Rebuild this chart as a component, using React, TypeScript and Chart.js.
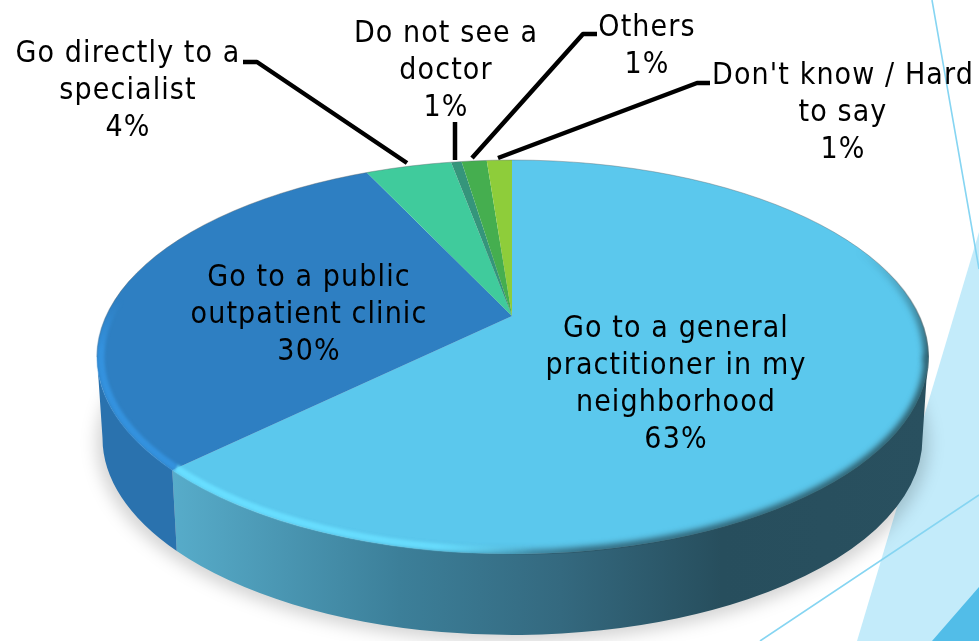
import React, { useEffect, useRef } from "react";
import { Chart, registerables } from "chart.js";

Chart.register(...registerables);

const categories = [
  "Go to a general practitioner in my neighborhood",
  "Go to a public outpatient clinic",
  "Go directly to a specialist",
  "Do not see a doctor",
  "Others",
  "Don't know / Hard to say",
];
const shares = [62.7, 30.3, 4.1, 0.5, 1.2, 1.2];
const sliceColors = ["#5bc8ed", "#2e7fc2", "#40cb9c", "#35957b", "#45ae4f", "#8ecd3a"];

const labelLines = [
  ["Go to a general", "practitioner in my", "neighborhood", "63%"],
  ["Go to a public", "outpatient clinic", "30%"],
  ["Go directly to a", "specialist", "4%"],
  ["Do not see a", "doctor", "1%"],
  ["Others", "1%"],
  ["Don't know / Hard", "to say", "1%"],
];
const labelAnchors = [
  [676, 329],
  [309, 278],
  [128, 54],
  [446, 34],
  [647, 28],
  [843, 76],
];
const leaders = [
  null,
  null,
  [[243, 62], [257, 62], [407, 163]],
  [[455, 122], [455, 160]],
  [[472, 158], [583, 34], [597, 34]],
  [[498, 158], [697, 83], [710, 83]],
];

const FONT = '30px "DejaVu Sans Condensed"';
const APEX = { x: 512, y: 316 };
const TOP = { cx: 512.5, cy: 357, rx: 415.5, ry: 197 };
const DEPTH = 81;
const BOTTOM_RX = 410;
const SPREAD = { x: 600, y: 279 };

function ellipsePath(ctx: CanvasRenderingContext2D) {
  ctx.beginPath();
  ctx.ellipse(TOP.cx, TOP.cy, TOP.rx, TOP.ry, 0, 0, Math.PI * 2);
}

function edgeParam(angle: number) {
  const dx = SPREAD.x * Math.cos(angle);
  const dy = SPREAD.y * Math.sin(angle);
  const ox = (APEX.x - TOP.cx) / TOP.rx;
  const oy = (APEX.y - TOP.cy) / TOP.ry;
  const ux = dx / TOP.rx;
  const uy = dy / TOP.ry;
  const a = ux * ux + uy * uy;
  const b = 2 * (ox * ux + oy * uy);
  const c = ox * ox + oy * oy - 1;
  const t = (-b + Math.sqrt(b * b - 4 * a * c)) / (2 * a);
  return Math.atan2(oy + t * uy, ox + t * ux);
}

function visibleRange(start: number, end: number) {
  const a = edgeParam(start);
  let b = edgeParam(end);
  if (b <= a) b += Math.PI * 2;
  const from = Math.max(a, 0);
  const to = Math.min(b, Math.PI);
  return to > from ? [from, to] : null;
}

const pie3d = {
  id: "pie3d",
  beforeDraw(chart: any) {
    const ctx: CanvasRenderingContext2D = chart.ctx;
    ctx.save();
    ctx.fillStyle = "#ffffff";
    ctx.fillRect(0, 0, 979, 641);
    ctx.fillStyle = "#c3ebfa";
    ctx.beginPath();
    ctx.moveTo(857, 641);
    ctx.lineTo(979, 232);
    ctx.lineTo(979, 641);
    ctx.closePath();
    ctx.fill();
    ctx.fillStyle = "#52bde8";
    ctx.beginPath();
    ctx.moveTo(932, 641);
    ctx.lineTo(979, 587);
    ctx.lineTo(979, 641);
    ctx.closePath();
    ctx.fill();
    ctx.strokeStyle = "#86d5f2";
    ctx.lineWidth = 1.6;
    ctx.beginPath();
    ctx.moveTo(760, 641);
    ctx.lineTo(979, 495);
    ctx.moveTo(932, 0);
    ctx.lineTo(979, 269);
    ctx.stroke();
    ctx.restore();
  },
  beforeDatasetsDraw(chart: any) {
    const ctx: CanvasRenderingContext2D = chart.ctx;
    const arcs = chart.getDatasetMeta(0).data;

    ctx.save();
    ctx.filter = "blur(8px)";
    ctx.fillStyle = "rgba(0,0,0,0.17)";
    ctx.beginPath();
    ctx.ellipse(TOP.cx, TOP.cy + DEPTH + 5, BOTTOM_RX + 6, TOP.ry + 2, 0, 0, Math.PI * 2);
    ctx.fill();
    ctx.restore();

    arcs.forEach((arc: any, i: number) => {
      const range = visibleRange(arc.startAngle, arc.endAngle);
      if (!range) return;
      const g = ctx.createLinearGradient(TOP.cx - TOP.rx, 0, TOP.cx + TOP.rx, 0);
      if (i === 0) {
        g.addColorStop(0, "#5ab0d0");
        g.addColorStop(0.09, "#57acca");
        g.addColorStop(0.364, "#3c7f99");
        g.addColorStop(0.558, "#34697f");
        g.addColorStop(0.752, "#274e5d");
        g.addColorStop(1, "#29505f");
      } else {
        g.addColorStop(0, "#2a72ae");
        g.addColorStop(1, "#2a72ae");
      }
      ctx.fillStyle = g;
      ctx.beginPath();
      ctx.ellipse(TOP.cx, TOP.cy, TOP.rx, TOP.ry, 0, range[0], range[1]);
      ctx.ellipse(TOP.cx, TOP.cy + DEPTH, BOTTOM_RX, TOP.ry, 0, range[1], range[0], true);
      ctx.closePath();
      ctx.fill();
    });

    ctx.save();
    ellipsePath(ctx);
    ctx.clip();
    const first = arcs[0];
    ctx.translate(APEX.x, APEX.y);
    ctx.scale(SPREAD.x / first.outerRadius, SPREAD.y / first.outerRadius);
    ctx.translate(-first.x, -first.y);
  },
  afterDatasetsDraw(chart: any) {
    const ctx: CanvasRenderingContext2D = chart.ctx;
    ctx.restore();
    const arcs = chart.getDatasetMeta(0).data;

    ctx.save();
    ctx.strokeStyle = "rgba(90,100,105,0.4)";
    ctx.lineWidth = 1;
    ctx.beginPath();
    ctx.ellipse(TOP.cx, TOP.cy, TOP.rx, TOP.ry, 0, Math.PI, Math.PI * 2);
    ctx.stroke();
    ctx.restore();

    ctx.save();
    ctx.beginPath();
    ctx.ellipse(TOP.cx, TOP.cy, TOP.rx + 1, TOP.ry + 1, 0, 0, Math.PI * 2);
    ctx.clip();
    const mainRange = visibleRange(arcs[0].startAngle, arcs[0].endAngle);
    const blueRange = visibleRange(arcs[1].startAngle, arcs[1].endAngle);
    if (mainRange) {
      const upper = ctx.createLinearGradient(0, 250, 0, 357);
      upper.addColorStop(0, "rgba(41,83,95,0)");
      upper.addColorStop(1, "rgba(41,83,95,1)");
      ctx.save();
      ctx.filter = "blur(3px)";
      ctx.strokeStyle = upper;
      ctx.lineWidth = 8;
      ctx.beginPath();
      ctx.ellipse(TOP.cx, TOP.cy, TOP.rx, TOP.ry, 0, -0.7, 0.02);
      ctx.stroke();
      ctx.restore();

      const dark = ctx.createLinearGradient(175, 0, 924, 0);
      dark.addColorStop(0, "rgba(62,130,160,0)");
      dark.addColorStop(0.3, "rgba(50,110,135,0.2)");
      dark.addColorStop(0.55, "rgba(42,84,100,0.9)");
      dark.addColorStop(1, "rgba(41,83,95,1)");
      ctx.save();
      ctx.filter = "blur(3px)";
      ctx.strokeStyle = dark;
      ctx.lineWidth = 8;
      ctx.beginPath();
      ctx.ellipse(TOP.cx, TOP.cy, TOP.rx, TOP.ry, 0, 0, mainRange[1]);
      ctx.stroke();
      ctx.restore();

      const rim = ctx.createLinearGradient(175, 0, 924, 0);
      rim.addColorStop(0, "rgba(104,222,255,1)");
      rim.addColorStop(0.35, "rgba(104,222,255,0.9)");
      rim.addColorStop(0.48, "rgba(104,222,255,0)");
      rim.addColorStop(1, "rgba(104,222,255,0)");
      ctx.save();
      ctx.filter = "blur(1.5px)";
      ctx.strokeStyle = rim;
      ctx.lineWidth = 7;
      ctx.beginPath();
      ctx.ellipse(TOP.cx, TOP.cy, TOP.rx - 4, TOP.ry - 4, 0, mainRange[0], mainRange[1]);
      ctx.stroke();
      ctx.restore();
    }
    if (blueRange) {
      const blueRim = ctx.createLinearGradient(0, 300, 0, 350);
      blueRim.addColorStop(0, "rgba(52,146,222,0)");
      blueRim.addColorStop(1, "rgba(52,146,222,1)");
      ctx.save();
      ctx.filter = "blur(1.5px)";
      ctx.strokeStyle = blueRim;
      ctx.lineWidth = 7;
      ctx.beginPath();
      ctx.ellipse(TOP.cx, TOP.cy, TOP.rx - 4, TOP.ry - 4, 0, blueRange[0], blueRange[1] + 0.3);
      ctx.stroke();
      ctx.restore();
    }
    ctx.restore();
  },
  afterDraw(chart: any) {
    const ctx: CanvasRenderingContext2D = chart.ctx;
    ctx.save();
    ctx.strokeStyle = "#000000";
    ctx.lineWidth = 4.5;
    ctx.lineJoin = "round";
    leaders.forEach((pts) => {
      if (!pts) return;
      ctx.beginPath();
      pts.forEach((p, i) => (i ? ctx.lineTo(p[0], p[1]) : ctx.moveTo(p[0], p[1])));
      ctx.stroke();
    });
    ctx.fillStyle = "#000000";
    ctx.font = FONT;
    (ctx as any).letterSpacing = "1.1px";
    ctx.textAlign = "center";
    ctx.textBaseline = "middle";
    labelLines.forEach((lines, i) => {
      lines.forEach((line, j) => {
        ctx.fillText(line, labelAnchors[i][0], labelAnchors[i][1] + j * 37);
      });
    });
    ctx.restore();
  },
};

export default function App() {
  const ref = useRef<HTMLCanvasElement>(null);
  useEffect(() => {
    const chart = new Chart(ref.current!, {
      type: "pie",
      data: {
        labels: categories,
        datasets: [{ data: shares, backgroundColor: sliceColors, borderWidth: 0 }],
      },
      options: {
        animation: false,
        responsive: false,
        devicePixelRatio: 1,
        rotation: 0,
        layout: { padding: 0 },
        plugins: { legend: { display: false }, tooltip: { enabled: false } },
      },
      plugins: [pie3d],
    } as any);
    return () => chart.destroy();
  }, []);
  return (
    <canvas
      ref={ref}
      width={979}
      height={641}
      style={{ position: "fixed", left: 0, top: 0, width: 979, height: 641, display: "block" }}
    />
  );
}
